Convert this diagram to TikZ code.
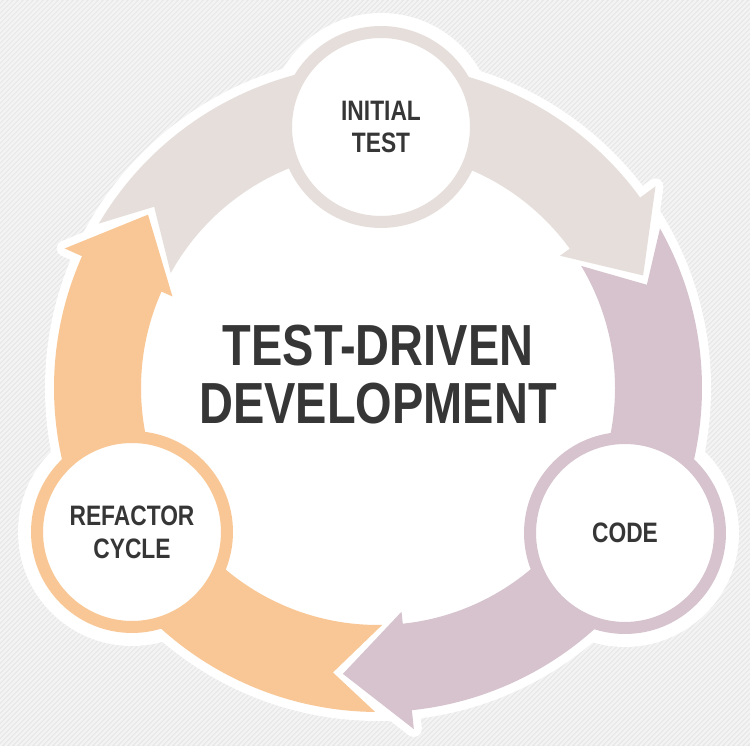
\documentclass[tikz,border=0pt]{standalone}
\usepackage{fontspec}
\newfontfamily\tddfont[FakeStretch=0.81]{Liberation Sans}

\definecolor{bg}{HTML}{E6E6E6}
\definecolor{stripe}{HTML}{F3F3F3}
\definecolor{txt}{HTML}{363636}
\definecolor{grayband}{HTML}{E6DEDB}
\definecolor{purpleband}{HTML}{D7C3CD}
\definecolor{orangeband}{HTML}{F9C795}

% one arrow of the ring, centred on the origin
\newcommand{\ringarrow}{(149.5:324) arc[start angle=149.5, end angle=36, radius=324]
  -- (36:343) -- (23:288) -- (36:225) -- (36:237)
  arc[start angle=36, end angle=151, radius=237] -- (141:288) -- cycle}

\tikzset{
  stage/.style={circle, fill=white, line width=0.24cm, minimum size=3.8cm,
    align=center, text=txt, font=\tddfont\bfseries\fontsize{16}{18.7}\selectfont},
}

\begin{document}
\begin{tikzpicture}[x=0.02cm, y=0.02cm]
    \useasboundingbox (0,0) rectangle (750,746);
    \fill [bg] (0,0) rectangle (750,746);
    \begin{scope}
      \clip (0,0) rectangle (750,746);
      \foreach \i in {-750,-745,...,750}
        \draw [stripe, line width=1.4pt] (\i,0) -- ++(746,746);
    \end{scope}
    % white plate under the ring
    \fill [white] (378,358) circle [radius=333];
    \foreach \p in {(381,619),(625,213),(132,214)}
      \fill [white] \p circle [radius=114];
    \begin{scope}[shift={(378,358)}]
      \foreach \a in {0,-120,-240}
        \draw [white, line width=0.32cm, line join=round, rotate=\a] \ringarrow;
      \foreach \a/\c in {0/grayband,-120/purpleband,-240/orangeband}
        \fill [\c, rotate=\a] \ringarrow;
    \end{scope}
    \node (tst) at (381,619) [stage, draw=grayband] {INITIAL\\TEST};
    \node (code) at (625,213) [stage, draw=purpleband] {CODE};
    \node (refac) at (132,214) [stage, draw=orangeband] {REFACTOR\\CYCLE};
    \node (title) at (378,371) [align=center, text=txt,
      font=\tddfont\bfseries\fontsize{33}{33}\selectfont] {TEST-DRIVEN\\DEVELOPMENT};
  \end{tikzpicture}
\end{document}
